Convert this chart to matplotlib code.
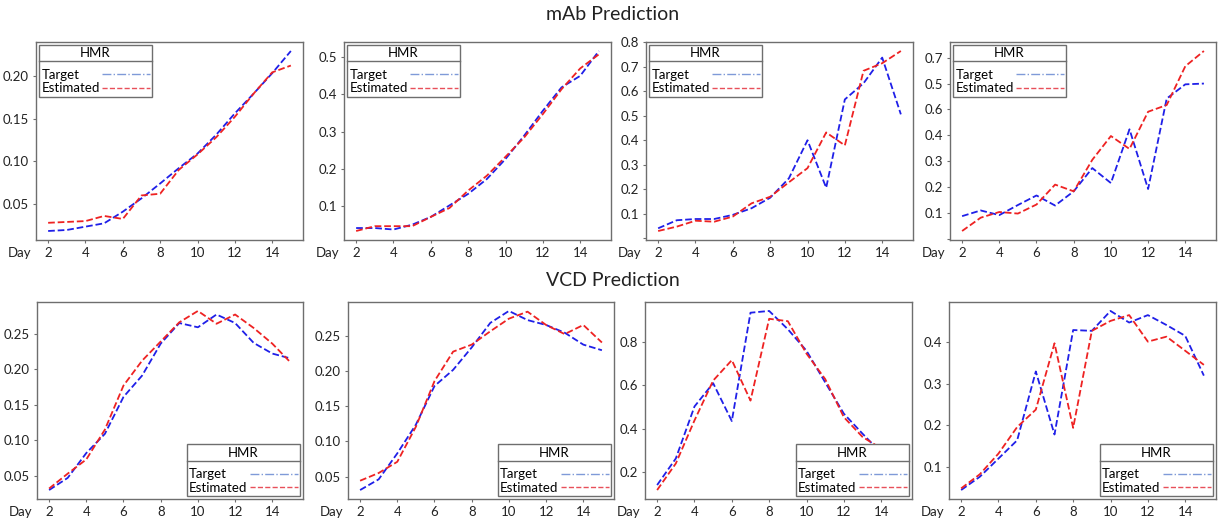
#!/usr/bin/env python3
# -*- coding: utf-8 -*-

import matplotlib
matplotlib.use('Agg')
import matplotlib.pyplot as plt
from matplotlib.lines import Line2D

plt.rcParams['font.family'] = ['Lato', 'DejaVu Sans']

days = list(range(2, 16))

# mAb prediction, one list per panel
mab_target = [
    [0.0184, 0.0196, 0.0235, 0.0274, 0.041, 0.0566, 0.074, 0.092, 0.109, 0.131, 0.156, 0.179, 0.203, 0.229],
    [0.040, 0.040, 0.036, 0.049, 0.070, 0.101, 0.132, 0.172, 0.226, 0.289, 0.356, 0.419, 0.450, 0.517],
    [0.040, 0.073, 0.078, 0.078, 0.095, 0.122, 0.165, 0.244, 0.400, 0.206, 0.567, 0.633, 0.738, 0.506],
    [0.087, 0.109, 0.091, 0.130, 0.167, 0.128, 0.183, 0.273, 0.215, 0.423, 0.192, 0.542, 0.597, 0.600],
]
mab_estimated = [
    [0.028, 0.029, 0.030, 0.036, 0.0325, 0.060, 0.062, 0.090, 0.108, 0.128, 0.152, 0.179, 0.204, 0.212],
    [0.032, 0.045, 0.045, 0.045, 0.070, 0.094, 0.141, 0.181, 0.232, 0.284, 0.347, 0.414, 0.470, 0.508],
    [0.029, 0.047, 0.071, 0.067, 0.088, 0.142, 0.169, 0.228, 0.286, 0.432, 0.379, 0.684, 0.715, 0.765],
    [0.0295, 0.081, 0.103, 0.097, 0.132, 0.209, 0.183, 0.305, 0.397, 0.347, 0.491, 0.517, 0.667, 0.726],
]

# VCD prediction
vcd_target = [
    [0.0299, 0.047, 0.082, 0.109, 0.161, 0.191, 0.236, 0.265, 0.259, 0.277, 0.265, 0.237, 0.222, 0.215],
    [0.0307, 0.046, 0.083, 0.124, 0.179, 0.202, 0.234, 0.269, 0.286, 0.273, 0.266, 0.255, 0.238, 0.230],
    [0.142, 0.264, 0.503, 0.610, 0.436, 0.934, 0.942, 0.858, 0.759, 0.614, 0.470, 0.378, 0.29, 0.24],
    [0.044, 0.076, 0.120, 0.164, 0.330, 0.178, 0.430, 0.428, 0.476, 0.448, 0.466, 0.442, 0.416, 0.320],
]
vcd_estimated = [
    [0.032, 0.053, 0.073, 0.115, 0.177, 0.212, 0.239, 0.266, 0.282, 0.264, 0.277, 0.258, 0.236, 0.209],
    [0.044, 0.055, 0.071, 0.121, 0.186, 0.228, 0.238, 0.257, 0.275, 0.285, 0.266, 0.253, 0.266, 0.241],
    [0.119, 0.241, 0.439, 0.622, 0.716, 0.530, 0.906, 0.895, 0.746, 0.629, 0.454, 0.363, 0.31, 0.26],
    [0.048, 0.082, 0.132, 0.196, 0.238, 0.398, 0.194, 0.428, 0.452, 0.466, 0.402, 0.414, 0.380, 0.346],
]

# y ticks and their labels as printed (the 4th mAb panel has 0.5/0.6 swapped)
mab_yticks = [
    [0.05, 0.10, 0.15, 0.20],
    [0.1, 0.2, 0.3, 0.4, 0.5],
    [0.0, 0.1, 0.2, 0.3, 0.4, 0.5, 0.6, 0.7, 0.8],
    [0.0, 0.1, 0.2, 0.3, 0.4, 0.5, 0.6, 0.7],
]
mab_ylabels = [
    ['0.05', '0.10', '0.15', '0.20'],
    ['0.1', '0.2', '0.3', '0.4', '0.5'],
    ['', '0.1', '0.2', '0.3', '0.4', '0.5', '0.6', '0.7', '0.8'],
    ['', '0.1', '0.2', '0.3', '0.4', '0.6', '0.5', '0.7'],
]
vcd_yticks = [
    [0.05, 0.10, 0.15, 0.20, 0.25],
    [0.05, 0.10, 0.15, 0.20, 0.25],
    [0.2, 0.4, 0.6, 0.8],
    [0.1, 0.2, 0.3, 0.4],
]
vcd_ylabels = [
    ['0.05', '0.10', '0.15', '0.20', '0.25'],
    ['0.05', '0.10', '0.15', '0.20', '0.25'],
    ['0.2', '0.4', '0.6', '0.8'],
    ['0.1', '0.2', '0.3', '0.4'],
]

W, H = 1226, 520
fig = plt.figure(figsize=(W / 100, H / 100), dpi=100)

lefts_top = [36, 344, 646, 950]
rights_top = [303, 611, 913, 1216]
lefts_bot = [37, 348, 645, 949]
rights_bot = [303, 614, 912, 1216]

spine_col = '#6e6e6e'
txt_col = '#222222'
fs = 9.5
legend_handles = [
    Line2D([], [], color='#7f9ad8', ls='-.', lw=1.0),
    Line2D([], [], color='#e8505a', ls='--', lw=1.0),
]


def make_panel(rect, target, estimated, yticks, ylabels, legend_loc):
    ax = fig.add_axes(rect)
    ax.plot(days, target, color='#1f1fe8', ls='--', lw=1.3)
    ax.plot(days, estimated, color='#ee2222', ls='--', lw=1.3)
    ax.set_xticks([2, 4, 6, 8, 10, 12, 14])
    ax.set_yticks(yticks)
    ax.set_yticklabels(ylabels)
    ax.tick_params(labelsize=fs, colors=spine_col, labelcolor=txt_col, length=2.5, pad=2.5)
    for s in ax.spines.values():
        s.set_color(spine_col)
        s.set_linewidth(1.0)
    ax.annotate('Day', xy=(0, 0), xycoords='axes fraction', xytext=(-3, -5),
                textcoords='offset points', ha='right', va='top', fontsize=fs,
                color=txt_col)
    leg = ax.legend(legend_handles, ['Target', 'Estimated'], title='HMR',
                    loc=legend_loc, markerfirst=False, fancybox=False,
                    edgecolor=spine_col, framealpha=1, fontsize=fs,
                    title_fontsize=fs, handlelength=3.6, handletextpad=0.2,
                    labelspacing=0.1, borderpad=0.2, borderaxespad=0.2)
    leg.get_frame().set_linewidth(1.0)
    leg._legend_box.sep = 7
    return ax, leg


legends = []
for i in range(4):
    l, r = lefts_top[i], rights_top[i]
    rect = [l / W, (H - 240) / H, (r - l) / W, 198 / H]
    legends.append(make_panel(rect, mab_target[i], mab_estimated[i],
                              mab_yticks[i], mab_ylabels[i], 'upper left'))
for i in range(4):
    l, r = lefts_bot[i], rights_bot[i]
    rect = [l / W, (H - 499) / H, (r - l) / W, 197 / H]
    legends.append(make_panel(rect, vcd_target[i], vcd_estimated[i],
                              vcd_yticks[i], vcd_ylabels[i], 'lower right'))

fig.text(0.5, 1 - 14 / H, 'mAb Prediction', ha='center', va='center', fontsize=14, color=txt_col)
fig.text(0.5, 1 - 281 / H, 'VCD Prediction', ha='center', va='center', fontsize=14, color=txt_col)

# labels left, handles right, in each legend row
fig.canvas.draw()
renderer = fig.canvas.get_renderer()
for ax, leg in legends:
    col = leg._legend_handle_box.get_children()[0]
    rows = col.get_children()
    wmax = max(r.get_bbox(renderer).width for r in rows)
    for r in rows:
        r.width = wmax
        r.mode = 'expand'
    col.align = 'left'
fig.canvas.draw()

# line under the legend title, as in the reference
for ax, leg in legends:
    lb = leg.get_window_extent(renderer)
    tb = leg.get_title().get_window_extent(renderer)
    y = tb.y0 - 2
    fig.add_artist(Line2D([lb.x0 / W, lb.x1 / W], [y / H, y / H],
                          color=spine_col, lw=1.0, transform=fig.transFigure))

fig.savefig('out.png', dpi=100)
